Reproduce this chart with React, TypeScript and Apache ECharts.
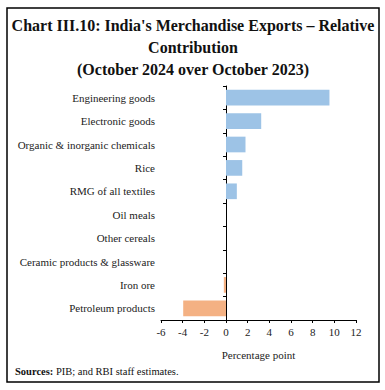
import React, { useEffect, useRef } from "react";
import * as echarts from "echarts";

const categories = [
  "Engineering goods",
  "Electronic goods",
  "Organic & inorganic chemicals",
  "Rice",
  "RMG of all textiles",
  "Oil meals",
  "Other cereals",
  "Ceramic products & glassware",
  "Iron ore",
  "Petroleum products",
];
const values = [9.55, 3.25, 1.8, 1.5, 1.0, 0, 0, 0, -0.2, -3.95];
const xMin = -6;
const xMax = 12;
const xInterval = 2;

const titleText = "Chart III.10: India's Merchandise Exports – Relative\nContribution\n(October 2024 over October 2023)";
const xAxisName = "Percentage point";
const sourceBold = "Sources:";
const sourceRest = " PIB; and RBI staff estimates.";

const POS = "#9DC3E6";
const NEG = "#F4B183";
const FONT = "Liberation Serif";

export default function App() {
  const ref = useRef<HTMLDivElement>(null);
  useEffect(() => {
    if (!ref.current) return;
    const chart = echarts.init(ref.current, undefined, { renderer: "svg" });
    chart.setOption({
      animation: false,
      backgroundColor: "#ffffff",
      textStyle: { fontFamily: FONT },
      grid: { left: 161, right: 29, top: 86, bottom: 70, containLabel: false },
      xAxis: {
        type: "value",
        min: xMin,
        max: xMax,
        interval: xInterval,
        name: xAxisName,
        nameLocation: "middle",
        nameGap: 29,
        nameTextStyle: { fontFamily: FONT, fontSize: 11, color: "#222" },
        axisLine: { show: true, onZero: false, lineStyle: { color: "#000", width: 1 } },
        axisTick: { show: true, length: 3, lineStyle: { color: "#000" } },
        axisLabel: { fontFamily: FONT, fontSize: 11, color: "#222", margin: 6 },
        splitLine: { show: false },
      },
      yAxis: [
        {
          type: "category",
          data: categories,
          inverse: true,
          position: "left",
          axisLine: { show: false, onZero: false },
          axisTick: { show: false },
          axisLabel: { fontFamily: FONT, fontSize: 11, color: "#222", margin: 6 },
        },
        {
          type: "category",
          data: categories,
          inverse: true,
          position: "right",
          axisLine: { show: true, onZero: true, lineStyle: { color: "#000", width: 1 } },
          axisTick: { show: true, inside: true, length: 3, lineStyle: { color: "#000" } },
          axisLabel: { show: false },
          splitLine: { show: false },
        },
      ],
      series: [
        {
          type: "bar",
          yAxisIndex: 0,
          data: values.map((v) => ({ value: v, itemStyle: { color: v < 0 ? NEG : POS } })),
          barCategoryGap: "33%",
        },
      ],
      graphic: [
        {
          type: "rect",
          shape: { x: 7, y: 8, width: 372, height: 374 },
          style: { fill: "none", stroke: "#000", lineWidth: 1.5 },
          silent: true,
        },
        {
          type: "text",
          x: 193,
          y: 14,
          style: {
            text: titleText,
            fontFamily: FONT,
            fontWeight: "bold",
            fontSize: 16,
            lineHeight: 22,
            fill: "#111",
            align: "center",
            verticalAlign: "top",
          },
        },
        {
          type: "text",
          x: 15,
          y: 371,
          style: {
            text: `{b|${sourceBold}}${sourceRest}`,
            fontFamily: FONT,
            fontSize: 10.5,
            fill: "#111",
            verticalAlign: "middle",
            rich: { b: { fontWeight: "bold", fontFamily: FONT, fontSize: 10.5, fill: "#111" } },
          },
        },
      ],
    });
    return () => chart.dispose();
  }, []);
  return (
    <div
      ref={ref}
      style={{ position: "fixed", left: 0, top: 0, width: 385, height: 390, background: "#fff" }}
    />
  );
}
